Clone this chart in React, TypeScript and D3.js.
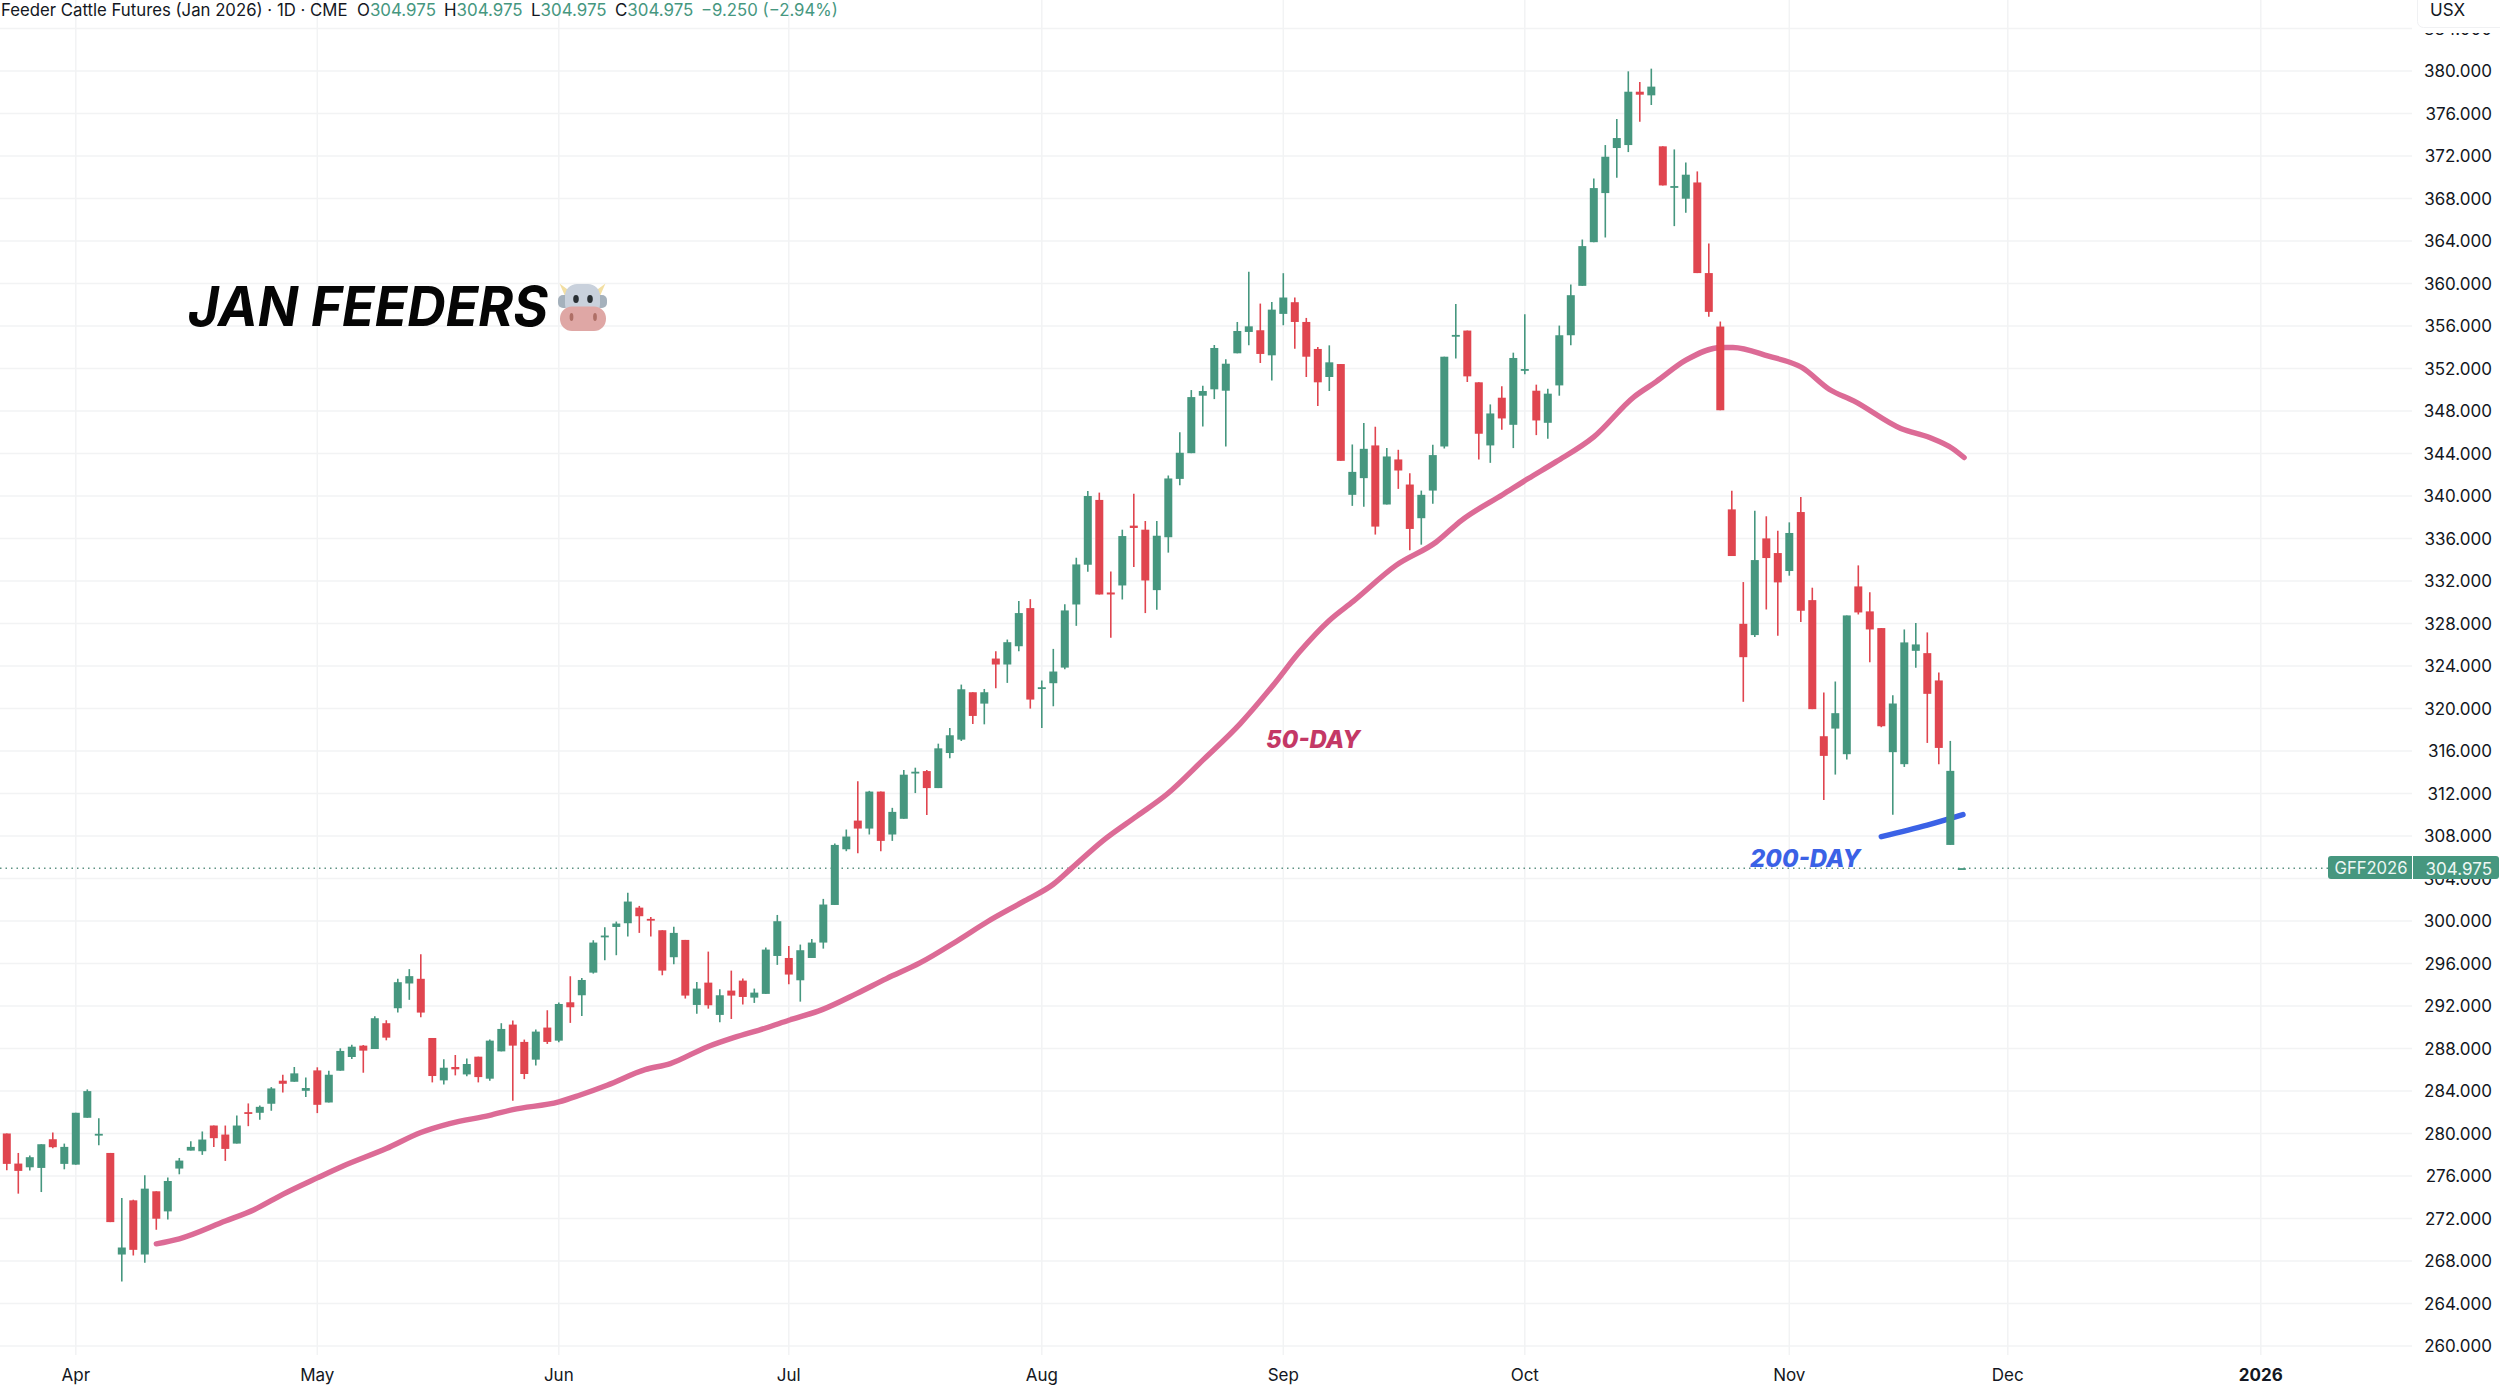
import * as d3 from "d3";

const W = 2500;
const H = 1389;
const PLOT_RIGHT = 2412;
const PLOT_BOTTOM = 1355;

const UP = "#46977f";
const DOWN = "#e0454f";
const GRID = "#f2f3f4";
const FONT = "Inter, 'Noto Sans', sans-serif";

const opens = [
  280.0, 277.17, 276.82, 276.76, 279.46, 277.14, 277.07, 281.48, 279.9, 278.17,
  268.61, 273.71, 268.61, 274.56, 272.67, 276.7, 278.39, 278.33, 280.75, 279.9,
  279.05, 282.01, 281.95, 282.8, 284.97, 284.87, 284.02, 285.94, 282.92, 285.91,
  287.2, 288.27, 287.95, 290.38, 291.79, 294.12, 294.56, 288.99, 285.0, 286.26,
  285.56, 287.23, 285.16, 287.73, 290.25, 288.62, 286.95, 289.97, 288.74, 292.35,
  293.01, 295.14, 298.56, 299.44, 299.79, 301.26, 300.2, 299.13, 296.59, 298.22,
  292.1, 294.2, 291.16, 293.45, 294.39, 292.79, 293.14, 296.71, 296.52, 294.42,
  296.52, 297.97, 301.51, 306.75, 309.45, 308.7, 312.18, 308.14, 309.62, 313.96,
  314.11, 312.51, 315.81, 317.07, 321.53, 320.46, 324.7, 324.14, 325.86, 329.45,
  321.91, 322.38, 323.85, 329.79, 333.53, 339.63, 330.92, 331.58, 337.21, 336.83,
  331.14, 336.12, 341.61, 344.03, 349.44, 350.04, 349.91, 353.43, 355.44, 355.6,
  353.24, 357.14, 358.24, 356.38, 353.84, 351.2, 352.42, 340.11, 341.68, 344.76,
  339.2, 343.44, 341.08, 337.91, 340.51, 344.66, 355.06, 355.57, 350.7, 344.76,
  349.25, 346.7, 351.86, 349.91, 346.89, 350.41, 355.13, 359.78, 363.89, 368.51,
  372.75, 373.03, 378.05, 377.71, 372.91, 369.11, 367.98, 369.51, 360.98, 355.95,
  338.74, 327.97, 326.91, 336.01, 334.63, 332.94, 338.49, 330.2, 317.39, 318.11,
  315.7, 331.49, 329.14, 327.57, 315.89, 314.76, 325.43, 325.21, 322.64, 307.16,
  304.975,
];

const highs = [
  280.0, 278.17, 277.92, 278.99, 280.09, 279.05, 281.95, 284.15, 281.44, 278.17,
  273.93, 273.77, 276.07, 274.56, 275.85, 277.7, 279.27, 280.19, 280.75, 280.75,
  281.7, 282.83, 282.64, 284.37, 285.53, 286.26, 285.28, 286.23, 285.91, 288.02,
  288.36, 288.33, 291.04, 290.66, 294.56, 295.47, 296.86, 288.99, 286.98, 287.39,
  287.07, 287.23, 288.84, 290.38, 290.63, 288.84, 289.78, 291.6, 292.32, 294.8,
  294.64, 298.19, 299.41, 299.95, 302.67, 301.42, 300.38, 299.13, 299.47, 298.22,
  294.27, 297.12, 293.57, 295.33, 294.58, 293.64, 297.5, 300.57, 297.65, 297.78,
  298.31, 302.08, 307.29, 308.61, 313.16, 312.25, 312.18, 310.65, 314.21, 314.43,
  314.21, 316.69, 318.17, 322.25, 321.53, 321.84, 325.39, 326.49, 330.11, 330.29,
  322.63, 325.61, 329.82, 334.19, 340.48, 340.32, 332.9, 336.83, 340.22, 337.65,
  337.65, 341.93, 346.01, 349.97, 350.38, 354.21, 352.86, 356.38, 361.1, 358.11,
  358.27, 360.97, 358.68, 356.76, 354.03, 354.18, 352.42, 344.85, 346.86, 346.52,
  344.51, 344.35, 342.15, 340.51, 344.82, 353.11, 358.08, 355.57, 350.7, 348.62,
  350.32, 353.49, 357.1, 350.48, 350.1, 356.04, 359.9, 364.14, 369.89, 373.03,
  375.48, 379.97, 378.97, 380.22, 372.91, 372.62, 371.4, 370.55, 363.77, 356.42,
  340.5, 331.9, 338.62, 338.09, 336.74, 337.52, 339.91, 331.37, 321.51, 322.54,
  328.76, 333.47, 330.93, 327.57, 321.25, 327.44, 328.04, 327.16, 323.39, 316.95,
  304.975,
];

const lows = [
  276.54, 274.34, 276.51, 274.49, 278.61, 276.63, 277.07, 281.48, 278.9, 271.66,
  266.07, 268.52, 267.83, 270.94, 271.91, 276.16, 278.39, 277.99, 278.74, 277.42,
  279.05, 280.69, 281.29, 282.14, 283.87, 284.87, 283.43, 281.92, 282.92, 285.91,
  287.01, 285.72, 287.95, 288.77, 291.38, 292.58, 290.94, 284.81, 284.62, 285.47,
  285.38, 284.81, 284.97, 287.73, 283.08, 285.12, 286.41, 288.43, 288.59, 290.41,
  291.06, 295.05, 296.3, 296.78, 298.53, 298.88, 298.53, 294.89, 295.93, 292.7,
  291.28, 291.75, 290.47, 290.78, 292.13, 292.29, 293.14, 295.87, 294.05, 292.41,
  296.52, 297.4, 301.51, 306.57, 306.38, 308.14, 306.57, 307.54, 309.62, 312.04,
  309.97, 312.51, 315.31, 316.94, 318.54, 318.51, 321.91, 322.41, 325.39, 319.99,
  318.17, 320.21, 323.7, 327.78, 332.87, 330.73, 326.65, 330.26, 333.31, 328.98,
  329.29, 334.67, 341.02, 344.03, 346.55, 349.12, 344.66, 353.43, 354.18, 352.52,
  350.88, 356.07, 353.87, 351.2, 348.46, 349.88, 343.31, 339.07, 338.98, 336.37,
  339.2, 340.67, 334.89, 335.42, 339.26, 344.47, 352.93, 350.73, 343.44, 343.12,
  346.23, 344.51, 351.45, 345.73, 345.39, 349.44, 354.18, 359.78, 363.89, 364.33,
  369.95, 372.37, 375.23, 376.8, 369.23, 365.4, 366.66, 360.98, 356.86, 348.07,
  334.35, 320.63, 326.72, 329.32, 326.84, 332.5, 328.13, 319.94, 311.4, 313.78,
  315.19, 328.85, 324.36, 318.24, 310.01, 314.5, 323.83, 316.76, 314.76, 307.16,
  304.975,
];

const closes = [
  277.14, 276.48, 277.77, 278.99, 278.71, 278.74, 281.95, 283.99, 279.97, 271.66,
  269.27, 269.05, 274.81, 271.98, 275.53, 277.45, 278.74, 279.43, 279.56, 278.55,
  280.75, 281.95, 282.51, 284.24, 284.68, 285.66, 284.28, 282.7, 285.53, 287.77,
  288.17, 287.8, 290.85, 289.02, 294.24, 294.81, 291.38, 285.41, 286.19, 286.04,
  286.54, 285.31, 288.74, 289.84, 288.27, 285.6, 289.59, 288.62, 292.19, 291.88,
  294.45, 297.97, 298.63, 299.76, 301.83, 300.45, 300.13, 295.33, 298.88, 292.98,
  293.64, 292.07, 293.01, 292.98, 292.85, 293.26, 297.31, 299.98, 294.96, 297.25,
  297.97, 301.55, 307.16, 307.95, 308.7, 312.18, 307.54, 310.27, 313.77, 314.05,
  312.51, 316.25, 317.48, 321.81, 319.3, 321.53, 324.14, 326.24, 328.98, 320.84,
  322.0, 323.48, 329.23, 333.56, 340.0, 330.73, 330.73, 336.23, 336.99, 332.05,
  336.26, 341.65, 344.07, 349.31, 349.88, 353.93, 352.45, 355.53, 355.97, 353.37,
  357.54, 358.68, 356.38, 353.11, 350.7, 352.58, 343.31, 342.27, 344.44, 337.12,
  343.72, 342.4, 336.9, 340.11, 343.85, 353.11, 355.16, 351.26, 345.86, 347.77,
  347.3, 352.99, 351.95, 347.11, 349.63, 355.13, 358.9, 363.52, 368.98, 371.93,
  373.69, 378.05, 377.77, 378.53, 369.23, 369.17, 370.24, 360.98, 357.33, 348.07,
  334.35, 324.83, 333.97, 334.16, 331.87, 336.52, 329.2, 319.94, 315.54, 319.56,
  328.76, 329.04, 327.44, 318.33, 320.47, 326.22, 326.03, 321.38, 316.29, 314.13,
  304.975,
];

// 50-day average at these bar positions
const ma50Bars = [
  13, 15, 19, 21.5, 24, 27, 29.2, 33, 36, 38.5, 42, 44, 48, 49.8, 52.2, 55.5, 57.7,
  60.9, 63.2, 66, 68, 70.9, 73.9, 76.5, 79.4, 82.6, 85.3, 88.5, 91, 92.5, 95.3, 98.3,
  100.9, 104.1, 107.24, 110.1, 112.4, 115, 117.1, 120.8, 124.3, 126.5, 130.1, 132.3,
  134.7, 138, 141.5, 143.4, 146, 149.1, 150.1, 153.2, 156.1, 158.5, 160.6, 164.7,
  167.2, 169.2, 170.2,
];
const ma50Values = [
  269.62, 270.09, 271.76, 272.83, 274.27, 275.82, 276.92, 278.58, 280.09, 280.93,
  281.71, 282.25, 282.97, 283.6, 284.54, 286.01, 286.58, 288.15, 289.02, 289.93,
  290.66, 291.66, 293.17, 294.58, 296.05, 298.1, 299.95, 301.89, 303.46, 304.88,
  307.55, 309.9, 311.95, 315.24, 318.56, 322.17, 325.31, 328.29, 330.11, 333.47,
  335.67, 337.71, 340.14, 341.64, 343.21, 345.56, 349.33, 350.74, 352.78, 353.98,
  353.98, 353.16, 352.09, 350.02, 348.95, 346.35, 345.5, 344.46, 343.62,
];

const ma200Bars = [163, 167, 170.1];
const ma200Values = [307.94, 309.02, 310.01];

const priceTicks = d3.range(260, 388, 4);
const monthLabels = ["Apr", "May", "Jun", "Jul", "Aug", "Sep", "Oct", "Nov", "Dec", "2026"];
const monthBars = [6, 27, 48, 68, 90, 111, 132, 155, 174, 196];

const lastPrice = 304.975;

const x = d3.scaleLinear([0, 196], [6.8, 6.8 + 196 * 11.5]);
const y = d3.scaleLinear([260, 380], [1346, 71]);

function linePath(bars: number[], values: number[]) {
  const pts = bars.map((b, i) => [x(b), y(values[i])] as [number, number]);
  return d3.line().curve(d3.curveMonotoneX)(pts) ?? "";
}

function CowFace() {
  return (
    <g transform="translate(558,283)" aria-label="cow">
      <path d="M1.5,0.5 L13,9 L7,13 Z" fill="#f3dfa2" />
      <path d="M47.5,0.5 L36,9 L42,13 Z" fill="#f3dfa2" />
      <rect x={0} y={12} width={12} height={13} rx={5} fill="#a5b1bc" />
      <rect x={37} y={12} width={12} height={13} rx={5} fill="#a5b1bc" />
      <rect x={7} y={1} width={35} height={32} rx={12} fill="#c9d1dc" />
      <ellipse cx={18} cy={16} rx={2.8} ry={4} fill="#292f33" />
      <ellipse cx={32} cy={16} rx={2.8} ry={4} fill="#292f33" />
      <rect x={2} y={23.5} width={46} height={24.5} rx={12} fill="#dfa7a5" />
      <ellipse cx={13.5} cy={34} rx={1.9} ry={4} fill="#af6f66" />
      <ellipse cx={37} cy={34} rx={1.9} ry={4} fill="#af6f66" />
    </g>
  );
}

export default function App() {
  const bodyW = 8;
  const lastY = y(lastPrice);

  return (
    <svg
      width={W}
      height={H}
      viewBox={`0 0 ${W} ${H}`}
      style={{ position: "absolute", left: 0, top: 0, display: "block", background: "#fff" }}
      fontFamily={FONT}
    >
      {/* grid */}
      {priceTicks.map((t) => (
        <line key={t} x1={0} x2={PLOT_RIGHT} y1={y(t)} y2={y(t)} stroke={GRID} strokeWidth={1.5} />
      ))}
      {monthBars.map((b) => (
        <line key={b} x1={x(b)} x2={x(b)} y1={0} y2={PLOT_BOTTOM} stroke={GRID} strokeWidth={1.5} />
      ))}

      {/* last price */}
      <line
        x1={0}
        x2={2328}
        y1={lastY}
        y2={lastY}
        stroke="#5f9384"
        strokeWidth={1.5}
        strokeDasharray="1.5 4"
      />

      {/* moving averages sit under the bars */}
      <path
        d={linePath(ma50Bars, ma50Values)}
        fill="none"
        stroke="#dc6b96"
        strokeWidth={5.4}
        strokeLinecap="round"
      />
      <path
        d={linePath(ma200Bars, ma200Values)}
        fill="none"
        stroke="#3b62e6"
        strokeWidth={5.5}
        strokeLinecap="round"
      />

      {closes.map((c, i) => {
        const o = opens[i];
        const col = c >= o ? UP : DOWN;
        const top = y(Math.max(o, c));
        const bodyH = Math.max(y(Math.min(o, c)) - top, 1.8);
        return (
          <g key={i}>
            <line
              x1={x(i)}
              x2={x(i)}
              y1={y(highs[i])}
              y2={y(lows[i])}
              stroke={col}
              strokeWidth={1.6}
            />
            <rect x={x(i) - bodyW / 2} y={top} width={bodyW} height={bodyH} fill={col} />
          </g>
        );
      })}

      {/* annotations */}
      <text
        x={188}
        y={326}
        fontSize={55}
        fontWeight={700}
        fontStyle="italic"
        fill="#050505"
        textLength={360}
        lengthAdjust="spacingAndGlyphs"
      >
        JAN FEEDERS
      </text>
      <CowFace />
      <text x={1266} y={748} fontSize={24} fontWeight={800} fontStyle="italic" fill="#c43866">
        50-DAY
      </text>
      <text x={1750} y={867} fontSize={24} fontWeight={800} fontStyle="italic" fill="#3b62e6">
        200-DAY
      </text>

      {/* price axis */}
      {priceTicks.map((t) => (
        <text
          key={t}
          x={2492}
          y={y(t)}
          dy="0.38em"
          textAnchor="end"
          fontSize={17}
          fill="#131722"
        >
          {t.toFixed(3)}
        </text>
      ))}
      <rect x={2416} y={-6} width={90} height={39} fill="#fff" />
      <rect x={2417.5} y={-8} width={90} height={35.5} rx={6} fill="#fff" stroke="#f0f1f3" />
      <text x={2430} y={16} fontSize={17} fill="#131722">
        USX
      </text>

      {/* price badge */}
      <rect x={2328} y={856} width={171} height={23} rx={3} fill={UP} />
      <line x1={2412.5} x2={2412.5} y1={856} y2={879} stroke="#fff" strokeWidth={1} />
      <text x={2371} y={lastY} dy="0.38em" textAnchor="middle" fontSize={16.6} fill="#eef7f4">
        GFF2026
      </text>
      <text x={2492} y={lastY} dy="0.38em" textAnchor="end" fontSize={17} fill="#eef7f4">
        {lastPrice.toFixed(3)}
      </text>

      {/* time axis */}
      {monthLabels.map((m, i) => (
        <text
          key={m}
          x={x(monthBars[i])}
          y={1375}
          dy="0.38em"
          textAnchor="middle"
          fontSize={17}
          fontWeight={m === "2026" ? 700 : 400}
          fill="#131722"
        >
          {m}
        </text>
      ))}

      {/* header */}
      <text x={1} y={15.5} fontSize={16.75} fill="#131722">
        Feeder Cattle Futures (Jan 2026) · 1D · CME
      </text>
      <text x={357} y={15.5} fontSize={16.9} fill="#131722">
        O<tspan fill={UP}>304.975</tspan>
      </text>
      <text x={444} y={15.5} fontSize={16.9} fill="#131722">
        H<tspan fill={UP}>304.975</tspan>
      </text>
      <text x={531} y={15.5} fontSize={16.9} fill="#131722">
        L<tspan fill={UP}>304.975</tspan>
      </text>
      <text x={615} y={15.5} fontSize={16.9} fill="#131722">
        C<tspan fill={UP}>304.975</tspan>
      </text>
      <text x={701} y={15.5} fontSize={16.75} fill={UP}>
        −9.250 (−2.94%)
      </text>
    </svg>
  );
}
